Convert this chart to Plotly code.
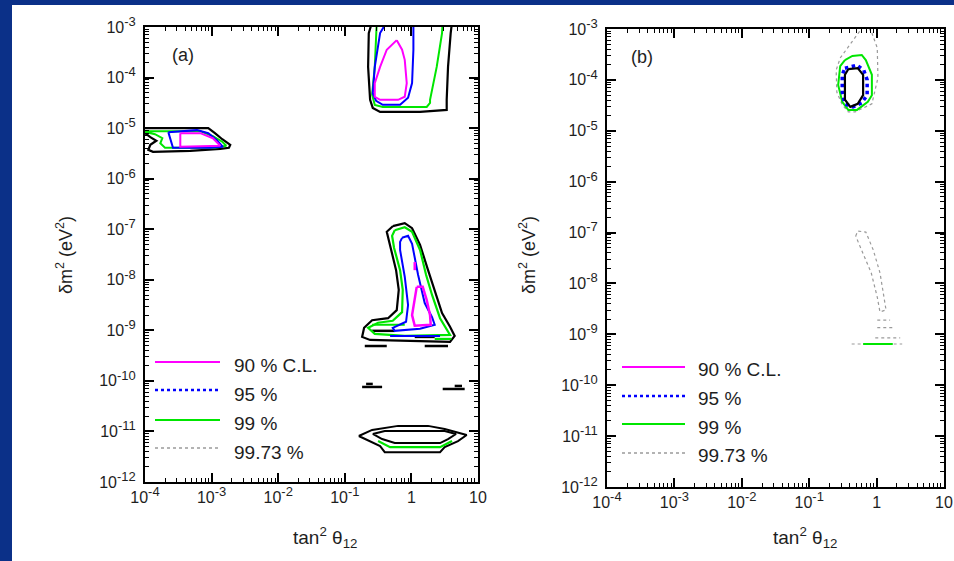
import plotly.graph_objects as go

# ---------------- data (log10 values) ----------------
# x = log10(tan^2 theta12), y = log10(dm^2 / eV^2)
X_TICKS = [1e-4, 1e-3, 1e-2, 1e-1, 1, 10]
X_TICK_EXP = ["-4", "-3", "-2", "-1", None, None]
X_TICK_PLAIN = [None, None, None, None, "1", "10"]
Y_TICKS = [10.0 ** e for e in range(-12, -2)]
Y_TICK_EXP = ["%d" % e for e in range(-12, -2)]

LEGEND_LABELS = ["90 % C.L.", "95 %", "99 %", "99.73 %"]

# ---- panel (a) ----
A_LMA_BLACK_X = [-0.59, -0.64, -0.65, -0.62, -0.58, -0.47, 0.13, 0.53, 0.53, 0.55, 0.59, 0.61]
A_LMA_BLACK_Y = [-2.9, -3.12, -3.79, -4.44, -4.60, -4.68, -4.68, -4.64, -4.44, -3.79, -3.12, -2.9]
A_LMA_GREEN_X = [-0.52, -0.55, -0.59, -0.55, -0.43, 0.23, 0.28, 0.28, 0.38, 0.46, 0.47]
A_LMA_GREEN_Y = [-2.9, -3.79, -4.34, -4.54, -4.58, -4.58, -4.50, -4.44, -3.79, -3.12, -2.9]
A_LMA_BLUE_X = [-0.37, -0.47, -0.55, -0.58, -0.53, -0.43, -0.17, -0.05, 0.01, 0.03, 0.03]
A_LMA_BLUE_Y = [-2.9, -3.12, -3.79, -4.31, -4.46, -4.54, -4.54, -4.40, -4.11, -3.45, -2.9]
A_LMA_MAG_X = [-0.22, -0.37, -0.47, -0.55, -0.55, -0.47, -0.20, -0.10, -0.07, -0.10, -0.14, -0.22]
A_LMA_MAG_Y = [-3.26, -3.45, -3.79, -4.11, -4.38, -4.44, -4.44, -4.38, -4.11, -3.65, -3.45, -3.26]

A_SMA_BLACK_X = [-4.05, -3.05, -2.95, -2.84, -2.72, -2.74, -2.87, -3.32, -3.88, -3.95, -3.92, -3.83, -3.92, -4.0, -4.05]
A_SMA_BLACK_Y = [-5.0, -5.0, -5.10, -5.22, -5.33, -5.39, -5.41, -5.45, -5.47, -5.43, -5.33, -5.25, -5.18, -5.10, -5.10]
A_SMA_GREEN_X = [-4.05, -3.17, -2.98, -2.84, -2.78, -2.95, -3.70, -3.77, -3.74, -3.85, -4.05]
A_SMA_GREEN_Y = [-5.06, -5.06, -5.16, -5.27, -5.35, -5.39, -5.39, -5.30, -5.20, -5.12, -5.06]
A_SMA_BLUE_X = [-3.65, -3.22, -3.05, -2.92, -2.83, -3.02, -3.58, -3.62, -3.65]
A_SMA_BLUE_Y = [-5.08, -5.04, -5.10, -5.24, -5.37, -5.39, -5.39, -5.18, -5.08]
A_SMA_MAG_X = [-3.47, -3.17, -2.98, -2.87, -3.47, -3.47]
A_SMA_MAG_Y = [-5.10, -5.10, -5.20, -5.35, -5.37, -5.10]

A_LOW_BLACK_X = [-0.28, -0.10, 0.01, 0.13, 0.25, 0.35, 0.46, 0.58, 0.65, 0.58, -0.10, -0.62, -0.74,
                 -0.71, -0.59, -0.35, -0.22, -0.19, -0.23, -0.32, -0.37, -0.28]
A_LOW_BLACK_Y = [-6.94, -6.88, -6.98, -7.31, -7.81, -8.20, -8.66, -8.93, -9.11, -9.23, -9.21, -9.19, -9.13,
                 -8.95, -8.80, -8.76, -8.60, -8.20, -7.81, -7.31, -7.05, -6.94]
A_LOW_BLACK_BARS_X = [-0.70, -0.37, None, 0.20, 0.55, None, -0.74, -0.44, None, -0.68, -0.58, None,
                      0.47, 0.80, None, 0.65, 0.76, None, -0.59, -0.25, None, 0.05, 0.35]
A_LOW_BLACK_BARS_Y = [-9.31, -9.31, None, -9.31, -9.31, None, -10.12, -10.12, None, -10.06, -10.06, None,
                      -10.16, -10.16, None, -10.10, -10.10, None, -9.01, -9.01, None, -9.13, -9.13]
A_LOW_GREEN_X = [-0.25, -0.10, 0.01, 0.13, 0.22, 0.31, 0.43, 0.53, 0.58, -0.10, -0.55, -0.65, -0.50,
                 -0.28, -0.14, -0.13, -0.17, -0.26, -0.29, -0.25, None, -0.59, -0.10, None, 0.35, 0.60]
A_LOW_GREEN_Y = [-7.02, -6.96, -7.05, -7.41, -7.90, -8.30, -8.76, -8.99, -9.09, -9.11, -9.07, -8.95, -8.85,
                 -8.81, -8.64, -8.20, -7.81, -7.37, -7.13, -7.02, None, -8.89, -8.89, None, -9.17, -9.17]
A_LOW_BLUE_X = [-0.14, -0.05, 0.01, 0.10, 0.20, 0.31, 0.35, 0.13, -0.25, -0.28, -0.08, -0.05, -0.10,
                -0.17, -0.17, -0.14, None, -0.32, 0.43]
A_LOW_BLUE_Y = [-7.17, -7.13, -7.29, -7.90, -8.46, -8.74, -8.89, -8.97, -9.01, -8.95, -8.83, -8.50, -7.94,
                -7.41, -7.25, -7.17, None, -9.11, -9.11]
A_LOW_MAG_X = [0.08, 0.17, 0.23, 0.28, 0.29, 0.05, 0.01, 0.05, 0.08, None, 0.05, 0.05]
A_LOW_MAG_Y = [-8.14, -8.14, -8.40, -8.70, -8.89, -8.91, -8.70, -8.40, -8.14, None, -7.65, -7.81]

A_VAC_BLACK_X = [-0.79, -0.59, -0.20, 0.25, 0.50, 0.83, 0.70, 0.50, 0.43, -0.40, -0.47, -0.62, -0.79, None,
                 -0.58, -0.40, 0.50, 0.67, 0.55, 0.43, -0.25, -0.44, -0.58]
A_VAC_BLACK_Y = [-11.09, -10.97, -10.89, -10.89, -10.95, -11.07, -11.19, -11.31, -11.41, -11.41, -11.29,
                 -11.19, -11.09, None,
                 -11.05, -10.99, -10.99, -11.05, -11.15, -11.23, -11.23, -11.15, -11.05]
A_VAC_GREEN_X = [-0.50, -0.32, 0.43, 0.61]
A_VAC_GREEN_Y = [-11.19, -11.31, -11.31, -11.19]

# ---- panel (b) ----
B_GRAY_X = [-0.20, -0.39, -0.54, -0.60, -0.59, -0.51, -0.42, -0.32, -0.07, 0.02, 0.01, -0.07, -0.13, None,
            -0.31, -0.28, -0.16, -0.05, 0.05, 0.11, 0.14, 0.05, 0.01, -0.08, -0.25, -0.31, None,
            0.01, 0.20, None, 0.01, 0.24, None, -0.02, 0.35, None, -0.37, 0.38]
B_GRAY_Y = [-2.95, -3.31, -3.57, -3.81, -4.24, -4.49, -4.63, -4.63, -4.47, -3.96, -3.37, -3.08, -2.95, None,
            -7.07, -6.97, -6.99, -7.34, -7.79, -8.27, -8.52, -8.56, -8.27, -7.79, -7.28, -7.07, None,
            -8.72, -8.72, None, -8.87, -8.87, None, -9.07, -9.07, None, -9.19, -9.19]
B_GREEN_X = [-0.47, -0.36, -0.22, -0.16, -0.07, -0.07, -0.13, -0.29, -0.42, -0.51, -0.57, -0.54, -0.47, None,
             -0.20, 0.24]
B_GREEN_Y = [-3.61, -3.53, -3.51, -3.61, -3.90, -4.30, -4.43, -4.59, -4.59, -4.43, -4.10, -3.73, -3.61, None,
             -9.19, -9.19]
B_BLUE_X = [-0.47, -0.29, -0.19, -0.14, -0.14, -0.22, -0.35, -0.47, -0.51, -0.51, -0.47]
B_BLUE_Y = [-3.77, -3.71, -3.81, -4.00, -4.30, -4.45, -4.53, -4.47, -4.24, -3.90, -3.77]
B_BLACK_X = [-0.42, -0.28, -0.20, -0.20, -0.28, -0.39, -0.47, -0.47, -0.42]
B_BLACK_Y = [-3.79, -3.77, -3.90, -4.30, -4.47, -4.53, -4.39, -3.90, -3.79]

# ---------------- styling ----------------
W, H = 954, 561
FONT = "Liberation Sans, Arial, Helvetica, sans-serif"
TXT = "#1e1e1e"
MAGENTA, BLUE, GREEN, GRAY, BLACK = "#ff00ff", "#0000ff", "#00e600", "#9a9a9a", "#000000"
SLIDE_BLUE = "#0b3088"
TICK_SIZE = 16
SUP_SIZE = 13


def px(x):
    return x / W


def py(y):
    return 1 - y / H


def lin(vals):
    return [None if v is None else 10.0 ** v for v in vals]


def pow_label(e):
    return "10<sup><span style='font-size:%dpx'>%s</span></sup>" % (SUP_SIZE, e)


X_TICK_TEXT = [pow_label(e) if e is not None else p for e, p in zip(X_TICK_EXP, X_TICK_PLAIN)]
Y_TICK_TEXT = [pow_label(e) for e in Y_TICK_EXP]

fig = go.Figure()


def add(xs, ys, panel, color, width, dash="solid"):
    fig.add_trace(go.Scatter(
        x=lin(xs), y=lin(ys), mode="lines",
        xaxis="x" if panel == "a" else "x2",
        yaxis="y" if panel == "a" else "y2",
        line=dict(color=color, width=width, dash=dash),
        showlegend=False, hoverinfo="skip", connectgaps=False))


# panel (a)
add(A_LMA_BLACK_X, A_LMA_BLACK_Y, "a", BLACK, 2.2)
add(A_LMA_GREEN_X, A_LMA_GREEN_Y, "a", GREEN, 2)
add(A_LMA_BLUE_X, A_LMA_BLUE_Y, "a", BLUE, 2)
add(A_LMA_MAG_X, A_LMA_MAG_Y, "a", MAGENTA, 2)
add(A_SMA_BLACK_X, A_SMA_BLACK_Y, "a", BLACK, 2.2)
add(A_SMA_GREEN_X, A_SMA_GREEN_Y, "a", GREEN, 2)
add(A_SMA_BLUE_X, A_SMA_BLUE_Y, "a", BLUE, 2)
add(A_SMA_MAG_X, A_SMA_MAG_Y, "a", MAGENTA, 2)
add(A_LOW_BLACK_X, A_LOW_BLACK_Y, "a", BLACK, 2.2)
add(A_LOW_BLACK_BARS_X, A_LOW_BLACK_BARS_Y, "a", BLACK, 2.5)
add(A_LOW_GREEN_X, A_LOW_GREEN_Y, "a", GREEN, 2.2)
add(A_LOW_BLUE_X, A_LOW_BLUE_Y, "a", BLUE, 2)
add(A_LOW_MAG_X, A_LOW_MAG_Y, "a", MAGENTA, 2.5)
add(A_VAC_BLACK_X, A_VAC_BLACK_Y, "a", BLACK, 2)
add(A_VAC_GREEN_X, A_VAC_GREEN_Y, "a", GREEN, 2.2)

# panel (b)
add(B_GRAY_X, B_GRAY_Y, "b", GRAY, 1.2, "dot")
add(B_GREEN_X, B_GREEN_Y, "b", GREEN, 2)
add(B_BLUE_X, B_BLUE_Y, "b", BLUE, 3.5, "dot")
add(B_BLACK_X, B_BLACK_Y, "b", BLACK, 2.2)

minor_x = [m * 10.0 ** e for e in range(-4, 1) for m in range(2, 10)]
minor_y = [m * 10.0 ** e for e in range(-12, -3) for m in range(2, 10)]


def xaxis(domain, anchor):
    return dict(type="log", range=[-4, 1], domain=domain, anchor=anchor,
                tickmode="array", tickvals=X_TICKS, ticktext=X_TICK_TEXT,
                ticks="inside", ticklen=9, tickwidth=1.5, tickcolor="black",
                showline=True, linecolor="black", linewidth=2, mirror="allticks",
                showgrid=False, zeroline=False,
                minor=dict(tickmode="array", tickvals=minor_x, ticks="inside", ticklen=4,
                           tickwidth=1, tickcolor="black", showgrid=False),
                tickfont=dict(family=FONT, size=TICK_SIZE, color=TXT))


def yaxis(domain, anchor):
    return dict(type="log", range=[-12, -3], domain=domain, anchor=anchor,
                tickmode="array", tickvals=Y_TICKS, ticktext=Y_TICK_TEXT,
                ticks="inside", ticklen=9, tickwidth=1.5, tickcolor="black",
                showline=True, linecolor="black", linewidth=2, mirror="allticks",
                showgrid=False, zeroline=False, ticklabelstandoff=4,
                minor=dict(tickmode="array", tickvals=minor_y, ticks="inside", ticklen=4,
                           tickwidth=1, tickcolor="black", showgrid=False),
                tickfont=dict(family=FONT, size=TICK_SIZE, color=TXT))


shapes = [dict(type="rect", xref="paper", yref="paper", x0=px(12), x1=1.0, y0=0, y1=py(5),
               fillcolor="white", line=dict(width=0), layer="below")]
annotations = []

legend_styles = [(MAGENTA, "solid", 2), (BLUE, "dot", 2.5), (GREEN, "solid", 2), (GRAY, "dot", 1.5)]
legend_sets = [
    dict(x0=155, x1=220, xt=232, ys=[362, 390, 420, 448], yt=[365, 394, 423, 452]),
    dict(x0=622, x1=685, xt=696, ys=[367, 396, 424, 453], yt=[369, 398, 427, 455]),
]
for L in legend_sets:
    for (col, dash, wd), yy, yt, lab in zip(legend_styles, L["ys"], L["yt"], LEGEND_LABELS):
        shapes.append(dict(type="line", xref="paper", yref="paper", x0=px(L["x0"]), x1=px(L["x1"]),
                           y0=py(yy), y1=py(yy), line=dict(color=col, width=wd, dash=dash)))
        annotations.append(dict(text=lab, xref="paper", yref="paper", x=px(L["xt"]), y=py(yt),
                                xanchor="left", yanchor="middle", showarrow=False,
                                font=dict(family=FONT, size=19, color=TXT)))

for lab, xx, yy in [("(a)", 183, 55), ("(b)", 642, 57)]:
    annotations.append(dict(text=lab, xref="paper", yref="paper", x=px(xx), y=py(yy),
                            xanchor="center", yanchor="middle", showarrow=False,
                            font=dict(family=FONT, size=18, color=TXT)))

for xx in (325, 805):
    annotations.append(dict(text="tan<sup>2</sup> θ<sub>12</sub>", xref="paper", yref="paper",
                            x=px(xx), y=py(537), xanchor="center", yanchor="middle", showarrow=False,
                            font=dict(family=FONT, size=19, color=TXT)))
for xx in (64, 527):
    annotations.append(dict(text="δm<sup>2</sup> (eV<sup>2</sup>)", xref="paper", yref="paper",
                            x=px(xx), y=py(255), xanchor="center", yanchor="middle", showarrow=False,
                            textangle=-90, font=dict(family=FONT, size=18, color=TXT)))

fig.update_layout(
    width=W, height=H,
    margin=dict(l=0, r=0, t=0, b=0, autoexpand=False),
    paper_bgcolor=SLIDE_BLUE, plot_bgcolor="white",
    xaxis=xaxis([px(145), px(478)], "y"),
    yaxis=yaxis([py(482), py(27)], "x"),
    xaxis2=xaxis([px(607), px(944)], "y2"),
    yaxis2=yaxis([py(487), py(29)], "x2"),
    shapes=shapes, annotations=annotations,
    showlegend=False,
)

fig.write_html("out.html", config={"displayModeBar": False},
               post_script="document.body.style.margin='0';")
